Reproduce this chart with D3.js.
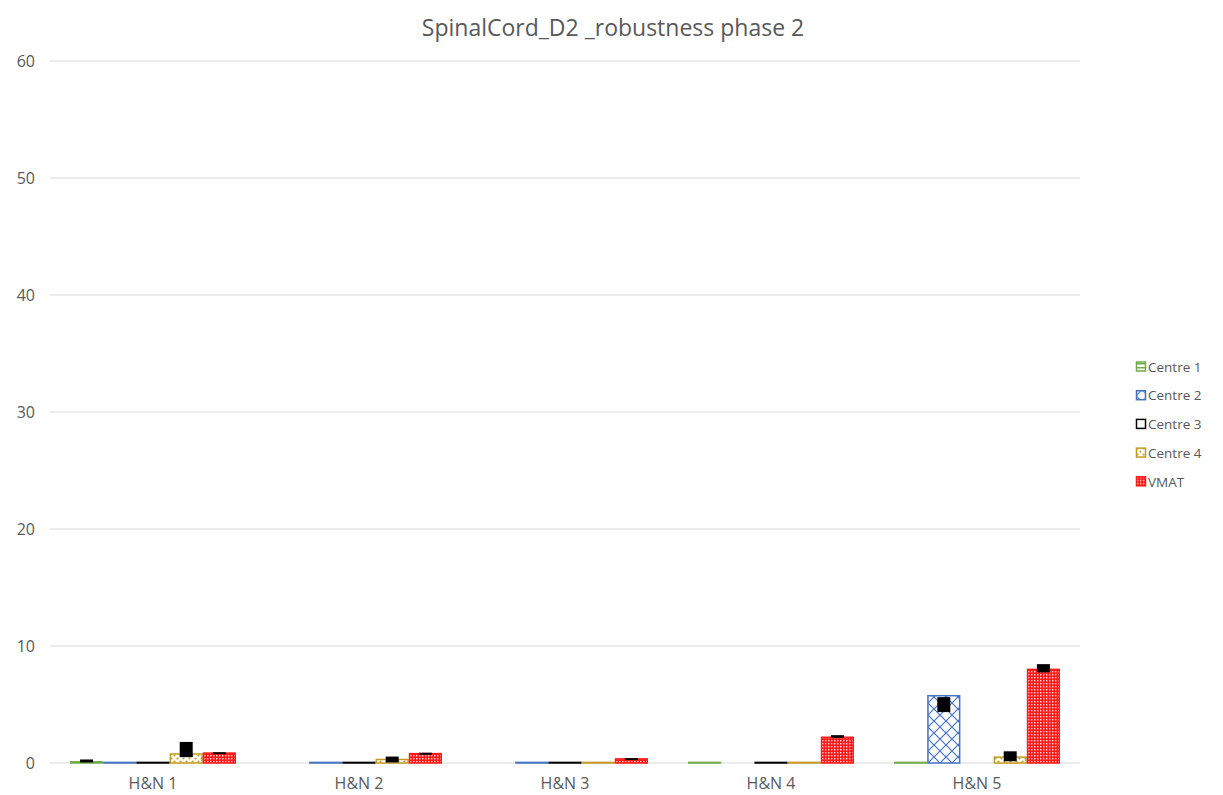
<!DOCTYPE html>
<html>
<head>
<meta charset="utf-8">
<script src="https://cdn.jsdelivr.net/npm/d3@7"></script>
<style>
  body { margin: 0; background: #fff; }
  text { font-family: "Open Sans", "Liberation Sans", sans-serif; fill: #595959; }
</style>
</head>
<body>
<svg id="chart" width="1223" height="795"></svg>
<script>
// chart data
const cases = ['H&N 1', 'H&N 2', 'H&N 3', 'H&N 4', 'H&N 5']
const seriesNames = ['Centre 1', 'Centre 2', 'Centre 3', 'Centre 4', 'VMAT']
const centre1 = [0.1, 0, 0, 0.05, 0.05]
const centre2 = [0.05, 0.05, 0.05, 0, 5.75]
const centre3 = [0.05, 0.05, 0.05, 0.05, 0]
const centre4 = [0.77, 0.3, 0.05, 0.05, 0.5]
const vmat = [0.85, 0.8, 0.35, 2.2, 8.0]
// error ranges [low, high] per case, null when no bar shown
const centre1Err = [[0.05, 0.3], null, null, null, null]
const centre2Err = [null, null, null, null, [4.35, 5.63]]
const centre3Err = [null, null, null, null, null]
const centre4Err = [[0.5, 1.8], [0.05, 0.55], null, null, [0.15, 1.0]]
const vmatErr = [[0.8, 0.92], [0.75, 0.88], [0.3, 0.42], [2.15, 2.38], [7.75, 8.45]]
const yTicks = [0, 10, 20, 30, 40, 50, 60]

const colors = ['#70ad47', '#4472c4', '#000000', '#c49a22', '#ff1a1a']
const fills = ['url(#pat-c1)', 'url(#pat-c2)', '#ffffff', 'url(#pat-c4)', 'url(#pat-vmat)']

const values = [centre1, centre2, centre3, centre4, vmat]
const errors = [centre1Err, centre2Err, centre3Err, centre4Err, vmatErr]

const svg = d3.select('#chart')
const margin = { left: 50, right: 143, top: 61, bottom: 32 }
const width = 1223 - margin.left - margin.right
const height = 795 - margin.top - margin.bottom

// patterns
const defs = svg.append('defs')
const p1 = defs.append('pattern').attr('id', 'pat-c1').attr('patternUnits', 'userSpaceOnUse').attr('width', 4).attr('height', 4)
p1.append('rect').attr('width', 4).attr('height', 4).attr('fill', '#fff')
p1.append('rect').attr('width', 4).attr('height', 1.5).attr('fill', colors[0])

const p2 = defs.append('pattern').attr('id', 'pat-c2').attr('patternUnits', 'userSpaceOnUse').attr('width', 12).attr('height', 12)
p2.append('rect').attr('width', 12).attr('height', 12).attr('fill', '#fff')
p2.append('path').attr('d', 'M0,0 L12,12 M12,0 L0,12').attr('stroke', colors[1]).attr('stroke-width', 1.2)

const p4 = defs.append('pattern').attr('id', 'pat-c4').attr('patternUnits', 'userSpaceOnUse').attr('width', 6).attr('height', 6)
p4.append('rect').attr('width', 6).attr('height', 6).attr('fill', '#fff')
p4.append('circle').attr('cx', 1.5).attr('cy', 1.5).attr('r', 1.1).attr('fill', colors[3])
p4.append('circle').attr('cx', 4.5).attr('cy', 4.5).attr('r', 1.1).attr('fill', colors[3])

const p5 = defs.append('pattern').attr('id', 'pat-vmat').attr('patternUnits', 'userSpaceOnUse').attr('width', 3).attr('height', 3)
p5.append('rect').attr('width', 3).attr('height', 3).attr('fill', colors[4])
p5.append('rect').attr('x', 1).attr('y', 1).attr('width', 1.4).attr('height', 1.4).attr('fill', '#ffe0e0')

const g = svg.append('g').attr('transform', `translate(${margin.left},${margin.top})`)

const x = d3.scaleBand().domain(cases).range([0, width]).paddingInner(0).paddingOuter(0)
const xSub = d3.scaleBand().domain(seriesNames).range([20, x.bandwidth() - 20])
const y = d3.scaleLinear().domain([0, 60]).range([height, 0])

// gridlines
g.selectAll('.grid')
  .data(yTicks)
  .join('line')
  .attr('x1', 0)
  .attr('x2', width)
  .attr('y1', (d) => y(d))
  .attr('y2', (d) => y(d))
  .attr('stroke', '#d9d9d9')
  .attr('stroke-width', 1)

// y labels
g.selectAll('.ytick')
  .data(yTicks)
  .join('text')
  .attr('x', -15)
  .attr('y', (d) => y(d))
  .attr('dy', '0.35em')
  .attr('text-anchor', 'end')
  .attr('font-size', 16)
  .text((d) => d)

// bars
const groups = g.selectAll('.group')
  .data(cases)
  .join('g')
  .attr('class', 'group')
  .attr('transform', (d) => `translate(${x(d)},0)`)

groups.selectAll('rect.bar')
  .data((d, i) => seriesNames.map((s, j) => ({ s, j, v: values[j][i] })))
  .join('rect')
  .attr('class', 'bar')
  .filter((d) => d.v > 0)
  .attr('x', (d) => xSub(d.s) + 0.75)
  .attr('y', (d) => y(d.v))
  .attr('width', xSub.bandwidth() - 1.5)
  .attr('height', (d) => y(0) - y(d.v))
  .attr('fill', (d) => fills[d.j])
  .attr('stroke', (d) => colors[d.j])
  .attr('stroke-width', 1.5)

// error bars
groups.selectAll('rect.err')
  .data((d, i) => seriesNames.map((s, j) => ({ s, j, e: errors[j][i] })).filter((d) => d.e))
  .join('rect')
  .attr('class', 'err')
  .attr('x', (d) => xSub(d.s) + xSub.bandwidth() / 2 - 6.5)
  .attr('y', (d) => y(d.e[1]))
  .attr('width', 13)
  .attr('height', (d) => Math.max(2, y(d.e[0]) - y(d.e[1])))
  .attr('fill', '#000')

// x labels
g.selectAll('.xlabel')
  .data(cases)
  .join('text')
  .attr('x', (d) => x(d) + x.bandwidth() / 2)
  .attr('y', height + 26)
  .attr('text-anchor', 'middle')
  .attr('font-size', 16)
  .text((d) => d)

// title
svg.append('text')
  .attr('x', 613)
  .attr('y', 36)
  .attr('text-anchor', 'middle')
  .attr('font-size', 23)
  .text('SpinalCord_D2 _robustness phase 2')

// legend
const legend = svg.append('g').attr('transform', 'translate(1136,367)')
const items = legend.selectAll('.item')
  .data(seriesNames)
  .join('g')
  .attr('transform', (d, i) => `translate(0,${i * 28.7})`)
items.append('rect')
  .attr('x', 0.5)
  .attr('y', -5)
  .attr('width', 9)
  .attr('height', 9)
  .attr('fill', (d, i) => fills[i])
  .attr('stroke', (d, i) => colors[i])
  .attr('stroke-width', 1.5)
items.append('text')
  .attr('x', 12)
  .attr('y', 0)
  .attr('dy', '0.35em')
  .attr('font-size', 13.5)
  .text((d) => d)
</script>
</body>
</html>
